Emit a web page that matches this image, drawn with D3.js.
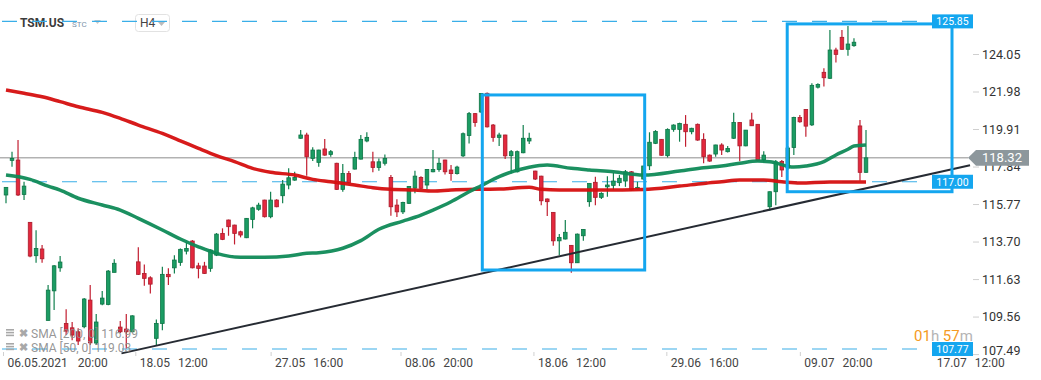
<!DOCTYPE html>
<html>
<head>
<meta charset="utf-8">
<script src="https://cdn.jsdelivr.net/npm/d3@7"></script>
<style>
body { margin: 0; background: #fff; }
svg { display: block; font-family: Roboto, "Noto Sans", sans-serif; }
</style>
</head>
<body>
<svg id="chart" width="1041" height="380"></svg>
<script>
// TSM.US H4 candles, [open, high, low, close]
var candles = [
  [116.27,116.69,115.81,116.69],[118.18,118.66,117.83,118.29],[118.20,119.30,116.21,116.27],[116.30,117.00,115.99,116.76],
  [114.76,114.78,112.84,112.90],[112.92,114.33,112.53,113.32],[113.29,113.51,112.53,112.75],[109.35,111.30,109.35,111.02],
  [110.98,112.40,109.92,112.36],[112.25,112.90,112.03,112.57],[109.18,109.97,108.54,108.76],[108.94,109.26,108.26,108.54],
  [108.72,108.92,107.99,108.21],[109.00,110.58,108.92,110.53],[110.47,111.30,107.99,108.11],[108.10,109.70,107.99,109.26],
  [110.25,110.97,110.19,110.58],[110.23,112.13,110.19,112.07],[112.00,112.73,112.00,112.50],[108.98,109.31,108.65,108.72],
  [108.87,109.70,107.80,108.72],[108.72,109.64,108.70,109.60],[112.58,113.38,111.85,111.89],[111.94,112.44,111.26,111.67],
  [111.70,111.79,110.84,111.35],[108.36,109.40,107.93,109.18],[109.18,112.31,108.81,111.89],[111.89,112.22,111.30,111.76],
  [112.25,112.95,111.94,112.68],[112.55,113.32,112.36,113.27],[113.17,113.66,112.99,113.32],[113.73,113.78,112.22,112.25],
  [112.36,112.53,111.67,112.22],[112.35,112.58,111.91,111.94],[112.22,113.27,112.03,113.23],[112.95,114.17,112.90,114.11],
  [114.15,114.43,113.78,113.82],[114.89,114.91,114.02,114.52],[114.61,114.63,113.54,114.15],[114.24,114.30,113.93,114.06],
  [113.91,115.00,113.89,114.98],[114.92,115.62,114.43,115.56],[115.48,115.84,115.40,115.71],[115.99,116.01,115.03,115.07],
  [115.07,116.45,114.98,115.99],[115.99,116.03,115.59,115.62],[116.23,117.09,115.81,116.87],[116.82,117.74,116.58,117.22],
  [117.09,117.55,117.06,117.24],[119.40,119.85,119.37,119.58],[119.58,119.70,117.33,118.38],[118.29,118.90,118.14,118.75],
  [118.07,118.77,117.83,118.75],[118.81,119.36,118.44,118.47],[118.51,118.75,118.38,118.66],[118.02,118.05,116.54,116.58],
  [116.58,117.98,116.45,117.46],[117.46,117.59,116.91,116.95],[117.70,118.66,117.67,118.34],[118.25,119.58,118.23,119.34],
  [119.25,119.73,119.18,119.45],[118.10,118.66,117.53,117.79],[117.79,118.29,117.61,118.10],[118.02,118.51,117.90,118.29],
  [117.24,117.37,115.12,115.62],[115.71,116.03,115.05,115.34],[115.34,115.90,115.22,115.86],[115.81,116.76,115.77,116.74],
  [116.65,117.61,116.36,117.31],[117.24,117.31,116.60,116.64],[116.82,117.70,116.58,117.68],[117.55,118.75,117.53,117.68],
  [117.68,118.31,117.55,118.02],[118.20,118.22,117.40,117.55],[117.65,117.92,117.06,117.45],[117.45,117.89,117.40,117.81],
  [118.43,119.72,118.36,119.65],[119.55,120.85,119.11,120.76],[120.76,120.80,120.03,120.27],[120.85,121.90,120.79,121.87],
  [121.88,121.92,119.99,120.03],[120.13,120.19,119.21,119.45],[119.45,119.70,118.98,119.58],[119.58,119.60,118.26,118.43],
  [118.44,118.75,117.46,118.66],[117.55,118.72,117.51,118.66],[118.60,120.13,118.57,119.40],[119.25,119.70,119.08,119.40],
  [117.59,117.61,117.09,117.15],[117.31,117.33,115.71,115.95],[116.05,116.08,115.11,115.90],[115.31,115.33,113.47,113.74],
  [113.74,114.11,112.95,113.93],[113.84,114.89,113.81,114.21],[113.49,113.51,111.98,112.53],[112.53,114.14,112.51,114.11],
  [114.02,114.38,113.74,114.37],[115.90,116.92,115.62,116.91],[116.97,117.28,115.71,116.14],[116.14,116.42,116.05,116.36],
  [116.72,117.31,116.17,116.82],[116.80,117.50,116.54,117.04],[116.95,117.37,116.76,117.19],[117.04,117.65,116.72,117.55],
  [117.55,117.59,116.51,116.54],[116.61,117.00,116.58,116.69],[117.15,117.88,117.09,117.87],[117.88,119.73,117.65,119.18],
  [119.12,119.85,119.08,119.77],[119.34,119.36,118.44,118.46],[118.44,119.95,118.34,119.89],[119.89,120.17,119.76,120.13],
  [119.89,120.26,119.21,120.22],[120.17,120.68,118.93,119.76],[119.76,119.98,119.62,119.95],[120.17,120.22,119.26,119.30],
  [119.34,119.67,118.02,118.38],[118.47,118.51,118.10,118.14],[118.53,119.04,118.38,119.03],[119.03,119.12,118.47,118.75],
  [118.66,118.97,118.62,118.84],[119.40,120.81,119.36,120.27],[120.27,120.28,118.13,118.98],[118.98,119.86,118.96,119.85],
  [120.41,120.81,120.08,120.09],[120.17,120.18,118.12,118.16],[118.20,118.69,118.10,118.47],[115.62,116.46,115.40,116.45],
  [116.45,118.20,115.71,118.10],[118.12,118.20,117.26,117.65],[117.76,118.97,117.65,118.86],[118.89,120.59,118.47,120.55],
  [120.55,120.68,120.26,120.31],[120.99,121.00,119.48,120.07],[120.14,122.43,120.08,122.32],[122.22,122.43,122.15,122.37],
  [123.04,123.26,122.26,122.74],[122.71,125.37,122.67,124.27],[124.27,124.40,123.58,124.03],[124.97,125.37,124.29,124.31],
  [124.31,125.60,123.96,124.60],[124.51,124.92,124.45,124.70],[120.08,120.41,117.06,117.52],[117.52,119.85,117.50,118.32]
];

// moving averages, [candle index, value]
var sma200 = [[0,122.06],[3,121.88],[6,121.69],[9,121.42],[12,121.14],[16,120.83],[19,120.50],[22,120.13],
  [26,119.67],[29,119.26],[32,118.84],[35,118.44],[38,118.11],[41,117.74],[44,117.52],[48,117.37],[51,117.13],
  [54,117.00],[58,116.82],[61,116.67],[64,116.58],[68,116.54],[71,116.49],[74,116.54],[78,116.58],[82,116.60],
  [87,116.69],[89,116.58],[92,116.54],[99,116.54],[106,116.57],[112,116.76],[116,116.91],[119,117.00],[122,117.09],
  [126,117.09],[129,117.00],[132,116.93],[137,116.99],[143,116.99]];
var sma50 = [[0,117.37],[4,117.13],[7,116.76],[9,116.54],[12,116.09],[16,115.72],[19,115.44],[22,114.98],
  [26,114.34],[29,113.84],[32,113.41],[35,113.05],[39,112.83],[43,112.83],[47,112.90],[50,113.05],[52,113.08],
  [56,113.33],[59,113.75],[62,114.38],[66,114.83],[68,115.04],[71,115.44],[74,115.90],[77,116.45],[79,116.78],
  [82,117.28],[87,117.80],[90,117.92],[94,117.74],[97,117.65],[101,117.55],[106,117.37],[112,117.59],[116,117.77],
  [119,117.87],[122,118.02],[125,118.14],[127,118.11],[131,117.81],[133,117.87],[136,118.11],[138,118.48],
  [140,118.79],[141,118.97],[143,119.03]];

var levels = [125.85, 117.00, 107.77];
var lastPrice = 118.32;
var yTicks = [124.05, 121.98, 119.91, 117.84, 115.77, 113.70, 111.63, 109.56, 107.49];
var xTickIdx = [-0.5, 21.5, 44, 65.6, 87.7, 109.8, 132, 154];
var xTickDates = ['06.05.2021', '18.05', '27.05', '08.06', '18.06', '29.06', '09.07', '17.07'];
var xTickTimes = ['20:00', '12:00', '16:00', '20:00', '12:00', '16:00', '20:00', '12:00'];
var trend = [[19.2, 107.53], [160.3, 117.91]];
// boxes: [from index, to index, top price, bottom price]
var boxes = [[79.2, 106.2, 121.79, 112.13], [129.9, 157.3, 125.71, 116.45]];

var svg = d3.select('#chart');
var axisX = 973, plotBottom = 355;

var x = d3.scaleLinear().domain([0, 143]).range([6, 866]);
var y = d3.scaleLinear().domain([106.06, 127.03]).range([380, 0]);

svg.append('defs').append('clipPath').attr('id', 'plot')
  .append('rect').attr('x', 0).attr('y', 0).attr('width', axisX).attr('height', plotBottom);

// top left legend
var leg = svg.append('g');
leg.append('text').attr('x', 20).attr('y', 27).attr('font-size', 12).attr('font-weight', 'bold')
  .attr('fill', '#3c3c3c').text('TSM.US');
leg.append('text').attr('x', 72).attr('y', 27).attr('font-size', 8).attr('fill', '#7d93aa').text('STC');
leg.append('path').attr('d', 'M94,20 L101,20 L97.5,24 Z').attr('fill', '#c8c8c8');
leg.append('rect').attr('x', 135.5).attr('y', 14.5).attr('width', 34).attr('height', 17).attr('rx', 3)
  .attr('fill', '#fff').attr('stroke', '#e2e2e2');
leg.append('text').attr('x', 140).attr('y', 27).attr('font-size', 12).attr('fill', '#444').text('H4');
leg.append('path').attr('d', 'M158,22 L165,22 L161.5,26 Z').attr('fill', '#bbb');

// last price line
svg.append('line').attr('x1', 0).attr('x2', 968).attr('y1', y(lastPrice)).attr('y2', y(lastPrice))
  .attr('stroke', '#8c8c8c').attr('stroke-width', 1);

// dashed levels
svg.selectAll('line.level').data(levels).join('line').attr('class', 'level')
  .attr('x1', 2).attr('x2', 932)
  .attr('y1', function (d) { return y(d); }).attr('y2', function (d) { return y(d); })
  .attr('stroke', '#3aaee8').attr('stroke-width', 1.1).attr('stroke-dasharray', '15,15');

// candles
var cg = svg.append('g');
cg.selectAll('line.wick').data(candles).join('line').attr('class', 'wick')
  .attr('x1', function (d, i) { return x(i); }).attr('x2', function (d, i) { return x(i); })
  .attr('y1', function (d) { return y(d[1]); }).attr('y2', function (d) { return y(d[2]); })
  .attr('stroke', function (d) { return d[3] >= d[0] ? '#12804f' : '#c21e30'; })
  .attr('stroke-width', 1.2);
cg.selectAll('rect.body').data(candles).join('rect').attr('class', 'body')
  .attr('x', function (d, i) { return x(i) - 1.8; })
  .attr('width', 3.6)
  .attr('y', function (d) { return y(Math.max(d[0], d[3])); })
  .attr('height', function (d) { return Math.max(1.5, Math.abs(y(d[0]) - y(d[3]))); })
  .attr('fill', function (d) { return d[3] >= d[0] ? '#1b9c63' : '#e3283d'; })
  .attr('stroke', function (d) { return d[3] >= d[0] ? '#0c7445' : '#a91d2c'; })
  .attr('stroke-width', 0.8);

// moving averages
var line = d3.line()
  .x(function (d) { return x(d[0]); })
  .y(function (d) { return y(d[1]); })
  .curve(d3.curveMonotoneX);
svg.append('path').datum(sma200).attr('d', line).attr('fill', 'none')
  .attr('stroke', '#d50f0f').attr('stroke-width', 3.5).attr('stroke-opacity', 0.95);
svg.append('path').datum(sma50).attr('d', line).attr('fill', 'none')
  .attr('stroke', '#0f8a57').attr('stroke-width', 3.5).attr('stroke-opacity', 0.95);

// trend line
svg.append('path').datum(trend).attr('d', d3.line()
    .x(function (d) { return x(d[0]); })
    .y(function (d) { return y(d[1]); }))
  .attr('clip-path', 'url(#plot)')
  .attr('stroke', '#262b33').attr('stroke-width', 2).attr('fill', 'none');

// boxes
svg.selectAll('rect.box').data(boxes).join('rect').attr('class', 'box')
  .attr('x', function (d) { return x(d[0]); })
  .attr('y', function (d) { return y(d[2]); })
  .attr('width', function (d) { return x(d[1]) - x(d[0]); })
  .attr('height', function (d) { return y(d[3]) - y(d[2]); })
  .attr('fill', 'none').attr('stroke', '#14a6ef').attr('stroke-width', 3);

// right axis
var yAxis = svg.append('g').attr('transform', 'translate(' + axisX + ',0)')
  .call(d3.axisRight(y).tickValues(yTicks).tickSize(6).tickPadding(3).tickFormat(d3.format('.2f')));
yAxis.select('.domain').remove();
yAxis.selectAll('line').attr('stroke', '#cfcfcf');
yAxis.selectAll('text').attr('fill', '#333').attr('font-size', 12.5).attr('font-family', 'Roboto, sans-serif');
// lowest label sits a little higher, clear of the time axis
yAxis.selectAll('.tick').filter(function (d) { return d === yTicks[yTicks.length - 1]; })
  .select('text').attr('y', -4);

// bottom axis
var xAxis = svg.append('g').attr('transform', 'translate(0,' + (plotBottom - 3) + ')')
  .call(d3.axisBottom(x).tickValues(xTickIdx).tickSize(4).tickFormat(''));
xAxis.select('.domain').remove();
xAxis.selectAll('line').attr('stroke', '#d0d0d0');
xAxis.selectAll('.tick').each(function (d, i) {
  var t = d3.select(this).append('text')
    .attr('x', 4).attr('y', 15).attr('fill', '#444').attr('font-size', 12)
    .attr('font-family', 'Roboto, sans-serif').attr('text-anchor', 'start')
    .text(xTickDates[i]);
  t.append('tspan').attr('dx', i === 0 ? 10 : 8).text(xTickTimes[i]);
});

// level labels
var lab = svg.selectAll('g.lab').data(levels).join('g').attr('class', 'lab')
  .attr('transform', function (d) { return 'translate(932,' + y(d) + ')'; });
lab.append('rect').attr('x', 0).attr('y', -7).attr('width', 41).attr('height', 14).attr('fill', '#14a6ef');
lab.append('text').attr('x', 20.5).attr('y', 4).attr('text-anchor', 'middle').attr('fill', '#fff')
  .attr('font-size', 10.5).text(function (d) { return d.toFixed(2); });

// last price label
var ly = y(lastPrice);
svg.append('path')
  .attr('d', 'M968,' + ly + ' L976,' + (ly - 7.8) + ' L1029,' + (ly - 7.8) + ' L1029,' + (ly + 7.8) + ' L976,' + (ly + 7.8) + ' Z')
  .attr('fill', '#8d979c');
svg.append('text').attr('x', 982).attr('y', ly + 4.6).attr('fill', '#fff').attr('font-size', 13)
  .text(lastPrice.toFixed(2));

// countdown
var cd = svg.append('text').attr('x', 914).attr('y', 340.5).attr('font-size', 15);
cd.append('tspan').attr('fill', '#f59a23').text('01');
cd.append('tspan').attr('fill', '#b4b4b4').text('h ');
cd.append('tspan').attr('fill', '#f59a23').text('57');
cd.append('tspan').attr('fill', '#b4b4b4').text('m');

// indicator legend
var smaLegend = [['SMA', '[200, 0]', sma200[sma200.length - 1][1]], ['SMA', '[50, 0]', sma50[sma50.length - 1][1]]];
var il = svg.selectAll('g.ind').data(smaLegend).join('g').attr('class', 'ind')
  .attr('transform', function (d, i) { return 'translate(0,' + (333 + i * 14) + ')'; });
il.append('rect').attr('x', 6).attr('y', -4).attr('width', 8).attr('height', 1.6).attr('fill', '#a8a8a8');
il.append('rect').attr('x', 6).attr('y', -1.2).attr('width', 8).attr('height', 1.6).attr('fill', '#a8a8a8');
il.append('rect').attr('x', 6).attr('y', 1.6).attr('width', 8).attr('height', 1.6).attr('fill', '#a8a8a8');
il.append('text').attr('x', 19).attr('y', 4).attr('font-size', 11).attr('font-weight', 'bold')
  .attr('fill', '#a8a8a8').text('\u2716');
il.append('text').attr('x', 31).attr('y', 4.5).attr('font-size', 12).attr('fill', '#8a8a8a')
  .attr('fill-opacity', 0.9).style('white-space', 'pre')
  .text(function (d) { return d[0] + ' ' + d[1] + ' ' + d[2].toFixed(2); });
</script>
</body>
</html>
